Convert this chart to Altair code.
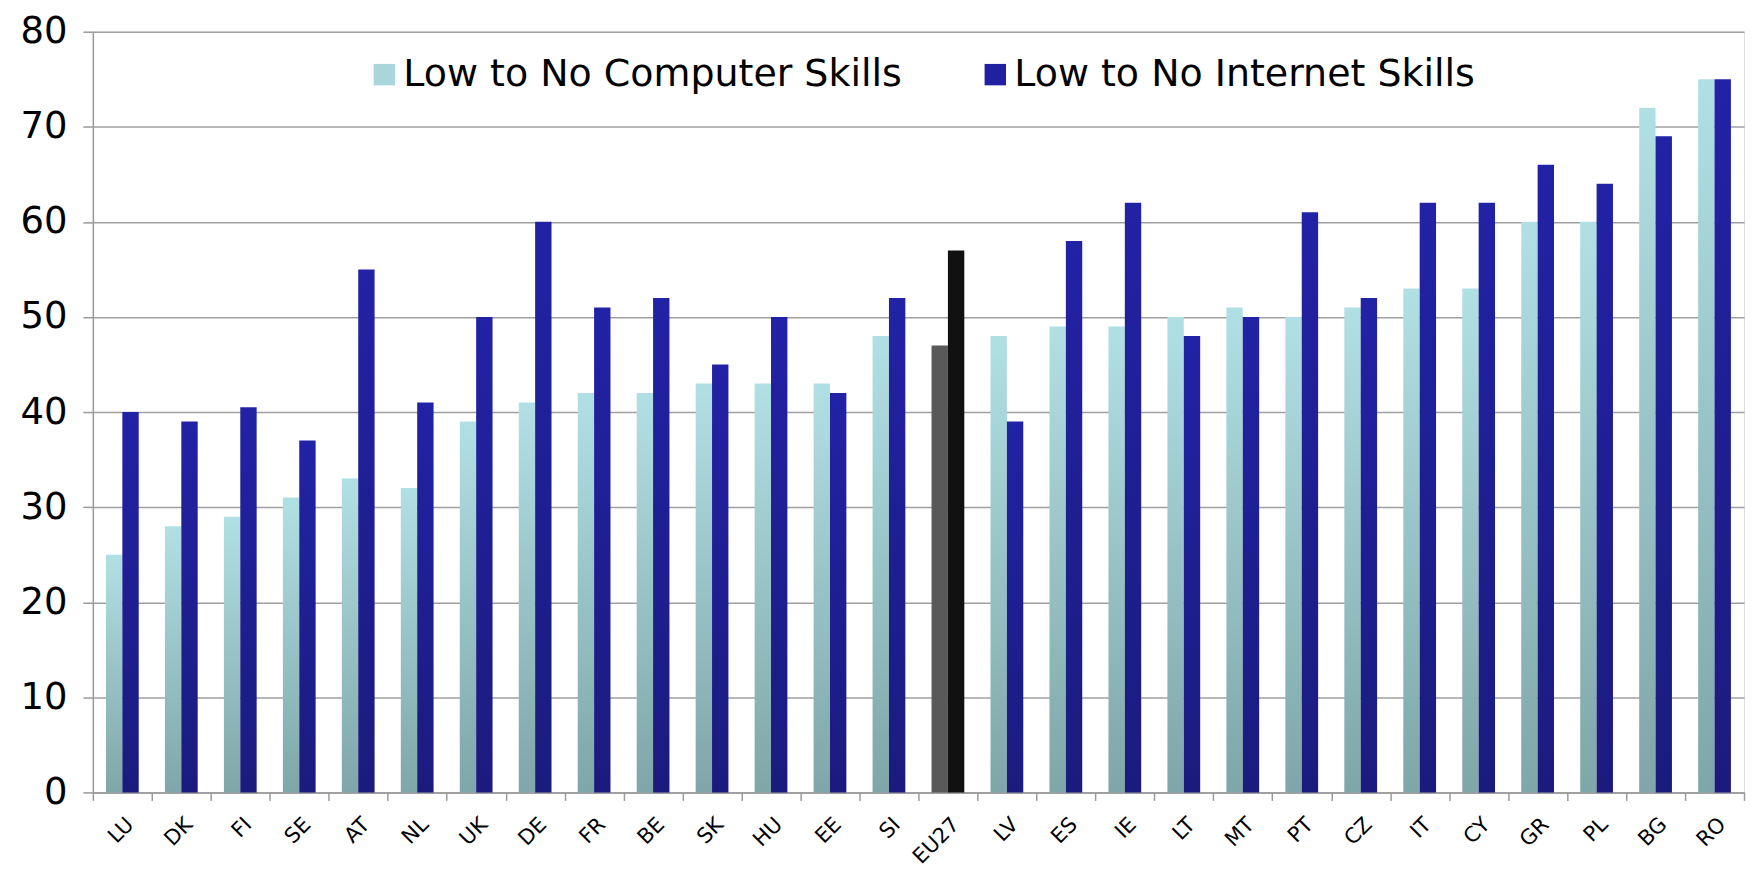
import altair as alt
import pandas as pd

countries = ["LU", "DK", "FI", "SE", "AT", "NL", "UK", "DE", "FR", "BE", "SK", "HU", "EE", "SI",
             "EU27", "LV", "ES", "IE", "LT", "MT", "PT", "CZ", "IT", "CY", "GR", "PL", "BG", "RO"]
computer = [25, 28, 29, 31, 33, 32, 39, 41, 42, 42, 43, 43, 43, 48,
            47, 48, 49, 49, 50, 51, 50, 51, 53, 53, 60, 60, 72, 75]
internet = [40, 39, 40.5, 37, 55, 41, 50, 60, 51, 52, 45, 50, 42, 52,
            57, 39, 58, 62, 48, 50, 61, 52, 62, 62, 66, 64, 69, 75]
series_names = ["Low to No Computer Skills", "Low to No Internet Skills"]
y_ticks = [0, 10, 20, 30, 40, 50, 60, 70, 80]

rows = []
for c, v1, v2 in zip(countries, computer, internet):
    rows.append({"country": c, "series": series_names[0], "value": v1})
    rows.append({"country": c, "series": series_names[1], "value": v2})
df = pd.DataFrame(rows)

FONT = "DejaVu Sans"

teal = alt.Gradient(gradient="linear",
                    stops=[alt.GradientStop(color="#b1e0e4", offset=0),
                           alt.GradientStop(color="#7fa6a8", offset=1)],
                    x1=0, x2=0, y1=0, y2=1)
blue = alt.Gradient(gradient="linear",
                    stops=[alt.GradientStop(color="#2222a6", offset=0),
                           alt.GradientStop(color="#1b1b7e", offset=1)],
                    x1=0, x2=0, y1=0, y2=1)

base = alt.Chart(df).encode(
    x=alt.X("country:N", sort=countries, title=None,
            scale=alt.Scale(paddingInner=0, paddingOuter=0),
            axis=alt.Axis(labelAngle=315, labelFont=FONT, labelFontSize=21, labelColor="black",
                          tickBand="extent", tickSize=8, tickColor="#9a9a9a", tickWidth=1.5,
                          domainColor="#9a9a9a", domainWidth=1.5, labelPadding=13,
                          grid=False)),
    xOffset=alt.XOffset("series:N", sort=series_names,
                        scale=alt.Scale(domain=series_names, paddingInner=0, paddingOuter=0.8)),
    y=alt.Y("value:Q", title=None,
            scale=alt.Scale(domain=[0, 80], nice=False),
            axis=alt.Axis(values=y_ticks, labelFont=FONT, labelFontSize=37, labelColor="black",
                          tickSize=10, tickColor="#9a9a9a", tickWidth=1.5, labelPadding=16,
                          domainColor="#9a9a9a", domainWidth=1.5,
                          gridColor="#a0a0a0", gridWidth=1.5)),
)

legend_layer = base.mark_bar(opacity=0).encode(
    color=alt.Color("series:N", sort=series_names,
                    scale=alt.Scale(domain=series_names, range=["#a9d6da", "#2020a0"]),
                    legend=alt.Legend(title=None, orient="none", direction="horizontal",
                                      legendX=273, legendY=24, symbolType="square",
                                      symbolSize=460, symbolOpacity=1, symbolStrokeWidth=0,
                                      labelFont=FONT, labelFontSize=38, labelColor="black",
                                      labelLimit=1000, columnPadding=74, labelOffset=0))
)

comp = base.mark_bar(color=teal).transform_filter(
    f"datum.series == '{series_names[0]}' && datum.country != 'EU27'")
inet = base.mark_bar(color=blue).transform_filter(
    f"datum.series == '{series_names[1]}' && datum.country != 'EU27'")
eu_comp = base.mark_bar(color="#595959").transform_filter(
    f"datum.series == '{series_names[0]}' && datum.country == 'EU27'")
eu_inet = base.mark_bar(color="#111111").transform_filter(
    f"datum.series == '{series_names[1]}' && datum.country == 'EU27'")

chart = alt.layer(legend_layer, comp, inet, eu_comp, eu_inet).properties(
    width=1654, height=762,
    autosize=alt.AutoSizeParams(type="none"),
    padding={"left": 85, "top": 23, "right": 10, "bottom": 77},
).configure_view(stroke=None).configure(background="white")

chart.save("out.html", embed_options={"renderer": "svg", "actions": False})
